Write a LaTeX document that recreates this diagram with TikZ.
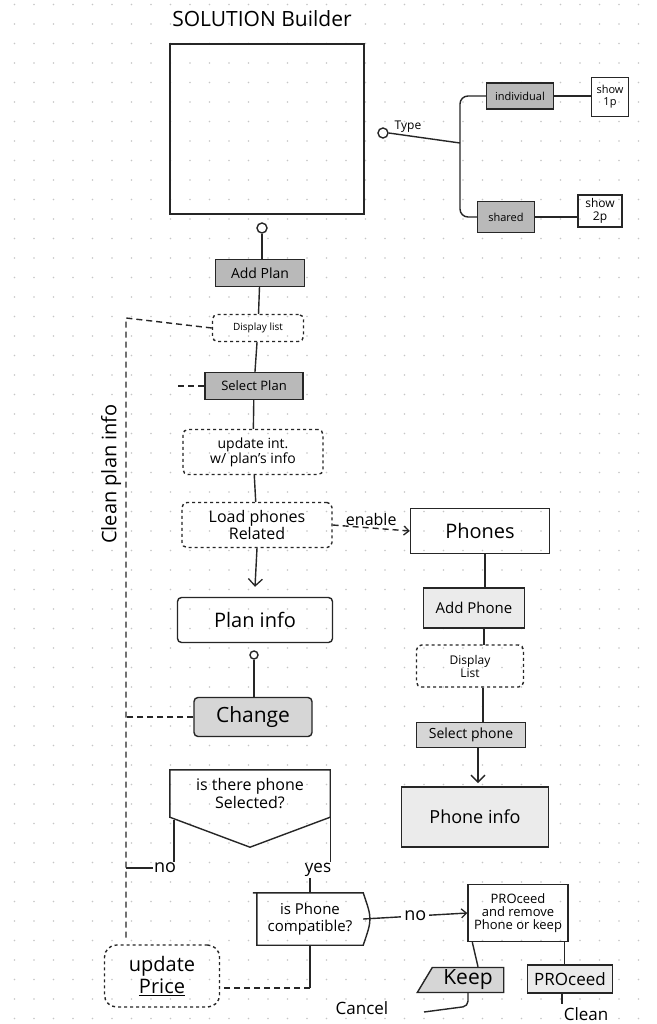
\documentclass[tikz,border=0pt]{standalone}
\usepackage{fontspec}
\setmainfont{Open Sans}
\usetikzlibrary{arrows.meta,calc,shapes.geometric}
\begin{document}
\begin{tikzpicture}[x=1pt,y=-1pt,
  ink/.style={draw=black!85,line width=1.4pt},
  box/.style={ink,rectangle,inner sep=2pt,align=center},
  dbox/.style={box,dashed,rounded corners=5pt},
  hdark/.style={box,fill=gray!55},
  hmid/.style={box,fill=gray!32},
  hlight/.style={box,fill=gray!16},
  conn/.style={ink},
  dconn/.style={ink,dashed,dash pattern=on 6pt off 4pt},
  vhead/.style={-{Straight Barb[length=7pt,width=14pt,line width=1.3pt]}},
  shead/.style={-{Straight Barb[length=5pt,width=9pt,line width=1.3pt]}},
  lbl/.style={inner sep=1pt,align=center},
  dotc/.style={ink,circle,inner sep=0pt,minimum size=#1,fill=white},
]
\useasboundingbox (0,0) rectangle (656,1024);
\fill[white] (0,0) rectangle (656,1024);
% dotted paper
\foreach \i in {0,...,33}{\foreach \j in {0,...,52}{
  \fill[gray!45] (14.5+19.5*\i,4.5+19.5*\j) circle (0.9);}}

% title and main box
\node[lbl,font=\fontsize{21}{24}\selectfont] (title) at (262,19) {SOLUTION Builder};
\node[box,line width=1.2pt,minimum width=194pt,minimum height=170pt] (main) at (267,129) {};
\node[dotc=10pt] (c1) at (262,228) {};
\node[dotc=10pt] (c3) at (383,133) {};

% type branch
\node[lbl,font=\fontsize{12}{14}\selectfont] (type) at (408,127) {Type};
\coordinate (j) at (460,143);
\node[hdark,minimum width=67pt,minimum height=26pt,font=\fontsize{11}{12}\selectfont] (indiv) at (520,96) {individual};
\node[box,minimum width=37pt,minimum height=39pt,font=\fontsize{11}{12}\selectfont] (show1) at (610,97) {show\\1p};
\node[hdark,minimum width=57pt,minimum height=31pt,font=\fontsize{11}{12}\selectfont] (shared) at (506,217) {shared};
\node[box,minimum width=44pt,minimum height=32pt,font=\fontsize{12}{13}\selectfont] (show2) at (600,211) {show\\2p};
\draw[conn] (c3.east) -- (j);
\draw[conn,rounded corners=8pt] (indiv.west) -| (j) |- (shared.west);
\draw[conn] (indiv.east) -- (indiv.east -| show1.west);
\draw[conn] (shared.east) -- (shared.east -| show2.west);

% plan column
\node[hdark,minimum width=89pt,minimum height=27pt,font=\fontsize{14}{16}\selectfont] (addplan) at (260,273) {Add Plan};
\node[dbox,minimum width=91pt,minimum height=27pt,font=\fontsize{10}{12}\selectfont] (displist) at (258,328) {Display list};
\node[hdark,minimum width=98pt,minimum height=27pt,font=\fontsize{13}{15}\selectfont] (selplan) at (254,386) {Select Plan};
\node[dbox,minimum width=140pt,minimum height=45pt,font=\fontsize{14}{15}\selectfont] (updint) at (253,452) {update int.\\w/ plan's info};
\node[dbox,minimum width=150pt,minimum height=45pt,font=\fontsize{16}{17}\selectfont] (load) at (257,525) {Load phones\\Related};
\node[box,rounded corners=4pt,minimum width=155pt,minimum height=45pt,font=\fontsize{20}{22}\selectfont] (planinfo) at (255,620) {Plan info};
\node[dotc=8pt] (c2) at (254,655) {};
\node[hmid,rounded corners=4pt,minimum width=118pt,minimum height=39pt,font=\fontsize{21}{23}\selectfont] (change) at (253,717) {Change};

\draw[conn] (c1.south) -- (c1.south |- addplan.north);
\draw[conn] (addplan) -- (displist);
\draw[conn] (displist) -- (selplan);
\draw[conn] (selplan) -- (updint);
\draw[conn] (updint) -- (load);
\draw[conn,vhead] (load.south) -- ($(planinfo.north)+(0,-10)$);
\draw[conn] (c2) -- (c2 |- change.north);

% clean plan info
\coordinate (ctop) at (126,318);
\coordinate (cbot) at (126,940);
\coordinate (sp) at (178,386);
\draw[dconn] (displist.west) -- (ctop) -- (cbot);
\draw[dconn] (sp) -- (selplan.west);
\draw[dconn] (change.west) -- (ctop |- change.west);
\node[lbl,rotate=90,font=\fontsize{20}{22}\selectfont] (cleanlbl) at (111,474) {Clean plan info};

% decision
\node[lbl,minimum width=160pt,minimum height=47pt,font=\fontsize{16}{18}\selectfont] (dec) at (250,793.5) {is there phone\\Selected?};
\draw[ink] (dec.north west) -- (dec.north east) -- (dec.south east) -- ($(dec.south)+(0,30)$) -- (dec.south west) -- cycle;
\node[lbl,font=\fontsize{18}{20}\selectfont] (no1) at (165,868) {no};
\node[lbl,font=\fontsize{17}{19}\selectfont] (yes) at (318,870) {yes};
\coordinate (dl) at (174,820);
\draw[conn] (dl) -- (dl |- no1.north);
\draw[conn] (no1.west) -- (ctop |- no1.west);
\draw[conn] (dec.south east) -- (dec.south east |- yes.north);
\draw[conn] (yes.south -| 310,0) -- (310,893);

% compatible
\node[lbl,minimum width=106pt,minimum height=52pt,font=\fontsize{15}{17}\selectfont] (compat) at (310,919) {is Phone\\compatible?};
\draw[ink] ($(compat.north west)+(-4,0)$) -- (compat.north east) .. controls ($(compat.east)+(9,0)$) .. (compat.south east) -- (compat.south west) -- (compat.north west);
\node[box,minimum width=100pt,minimum height=57pt,inner sep=1pt,font=\fontsize{13}{13}\selectfont] (pq) at (518,913) {PROceed\\and remove\\Phone or keep};
\draw[conn,shead] (compat.east) -- node[fill=white,inner sep=3pt,font=\fontsize{18}{20}\selectfont] {no} (pq.west);

\node[hmid,trapezium,trapezium left angle=65,trapezium right angle=90,trapezium stretches=true,minimum width=87pt,minimum height=25pt,font=\fontsize{21}{22}\selectfont] (keep) at (468,980) {Keep};
\node[hlight,minimum width=85pt,minimum height=28pt,font=\fontsize{17}{18}\selectfont] (proceed) at (570,979) {PROceed};
\draw[conn] ($(pq.south west)+(5,0)$) -- ($(keep.north)+(10,0)$);
\draw[conn] ($(pq.south east)+(-4,0)$) coordinate (pqs) -- (pqs |- proceed.north);
\node[lbl,font=\fontsize{17}{19}\selectfont] (cancel) at (362,1008) {Cancel};
\coordinate (cx) at (424,1012);
\draw[conn,rounded corners=5pt] ($(keep.south)+(0,0)$) -- ++(0,13) -- (cx);
\node[lbl,font=\fontsize{17}{19}\selectfont] (clean) at (586,1014) {Clean};
\draw[conn] (proceed.south -| 562,0) -- (562,1004);

% update price
\node[dbox,rounded corners=12pt,minimum width=115pt,minimum height=62pt,font=\fontsize{20}{22}\selectfont] (updprice) at (162,976) {update\\\underline{Price}};
\coordinate (cb) at (310,988);
\draw[conn] (compat.south) -- (cb);
\draw[dconn] (cb) -- (updprice.east |- cb);

% phones column
\node[box,minimum width=139pt,minimum height=45pt,font=\fontsize{20}{22}\selectfont] (phones) at (480,531) {Phones};
\node[hlight,minimum width=101pt,minimum height=40pt,font=\fontsize{15}{17}\selectfont] (addphone) at (474,608) {Add Phone};
\node[dbox,minimum width=107pt,minimum height=42pt,font=\fontsize{12}{13}\selectfont] (displist2) at (470,666) {Display\\List};
\node[hmid,minimum width=109pt,minimum height=25pt,font=\fontsize{14}{16}\selectfont] (selphone) at (471,735) {Select phone};
\node[hlight,minimum width=147pt,minimum height=60pt,font=\fontsize{18}{20}\selectfont] (phoneinfo) at (475,817) {Phone info};
\draw[dconn,shead] (load.east) -- node[above,inner sep=2pt,font=\fontsize{16}{18}\selectfont] {enable} (phones.west);
\draw[conn] (phones.south -| 485,0) -- (485,588);
\draw[conn] (addphone.south -| 484,0) -- (484,645);
\draw[conn] (displist2.south -| 483,0) -- (483,723);
\draw[conn,vhead] (selphone.south -| 478,0) -- (478,783);
\end{tikzpicture}
\end{document}
